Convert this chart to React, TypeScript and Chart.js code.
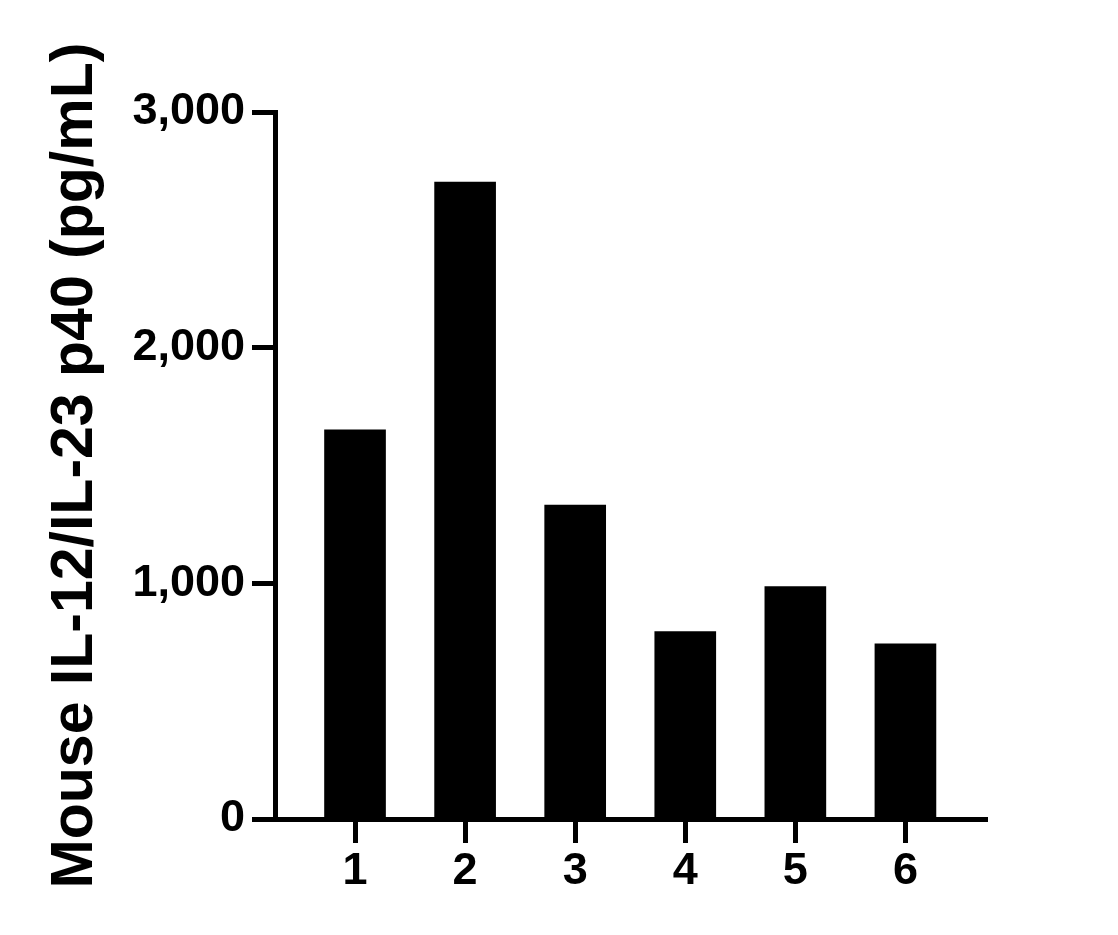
import React, { useEffect, useRef } from "react";
import { Chart, registerables } from "chart.js";

Chart.register(...registerables);

const categories = ["1", "2", "3", "4", "5", "6"];
const values = [1651, 2703, 1332, 795, 986, 743];
const yTicks = [0, 1000, 2000, 3000];
const yTitle = "Mouse IL-12/IL-23 p40 (pg/mL)";

const FONT = '"Liberation Sans", Arial, Helvetica, sans-serif';

export default function App() {
  const ref = useRef<HTMLCanvasElement | null>(null);

  useEffect(() => {
    if (!ref.current) return;
    const chart = new Chart(ref.current, {
      type: "bar",
      data: {
        datasets: [
          {
            data: values.map((v, i) => ({ x: i + 1, y: v })),
            backgroundColor: "#000000",
            borderWidth: 0,
            barThickness: 61,
          },
        ],
      },
      options: {
        responsive: false,
        animation: false,
        events: [],
        layout: { padding: { top: 112, right: 131, left: 0, bottom: 0 } },
        plugins: { legend: { display: false }, tooltip: { enabled: false } },
        scales: {
          x: {
            type: "linear",
            min: 0.273,
            max: 6.741,
            offset: false,
            afterBuildTicks: (axis: any) => {
              axis.ticks = categories.map((_, i) => ({ value: i + 1 }));
            },
            afterFit: (axis: any) => {
              axis.height = 116;
            },
            grid: {
              drawOnChartArea: false,
              drawTicks: true,
              tickLength: 24,
              tickWidth: 5,
              tickColor: "#000000",
              color: "#000000",
              offset: false,
            },
            border: { display: true, color: "#000000", width: 5 },
            ticks: {
              padding: 2,
              color: "#000000",
              maxRotation: 0,
              autoSkip: false,
              font: { family: FONT, size: 45, weight: "bold" },
              callback: (v: any) => categories[Math.round(Number(v)) - 1] ?? "",
            },
          },
          y: {
            type: "linear",
            min: 0,
            max: 3000,
            afterBuildTicks: (axis: any) => {
              axis.ticks = yTicks.map((v) => ({ value: v }));
            },
            afterFit: (axis: any) => {
              axis.width = 275;
            },
            grid: {
              drawOnChartArea: false,
              drawTicks: true,
              tickLength: 23,
              tickWidth: 5,
              tickColor: "#000000",
              color: "#000000",
            },
            border: { display: true, color: "#000000", width: 5 },
            ticks: {
              padding: 7,
              color: "#000000",
              font: { family: FONT, size: 45, weight: "bold" },
              callback: (v: any) => Number(v).toLocaleString("en-US"),
            },
            title: {
              display: true,
              text: yTitle,
              color: "#000000",
              padding: { top: 40, bottom: 0 },
              font: { family: FONT, size: 59, weight: "bold" },
            },
          },
        },
      },
    });
    return () => chart.destroy();
  }, []);

  return (
    <div style={{ position: "absolute", left: 0, top: 0, width: 1118, height: 935, background: "#ffffff" }}>
      <canvas ref={ref} width={1118} height={935} style={{ display: "block" }} />
    </div>
  );
}
